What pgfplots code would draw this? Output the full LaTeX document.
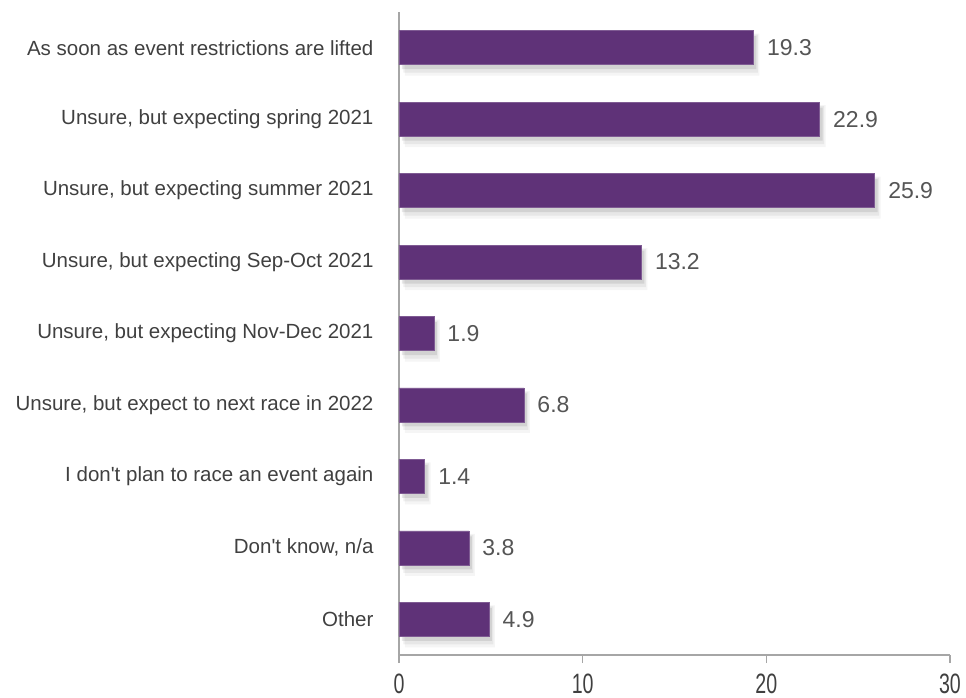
\documentclass[border=0pt]{standalone}
\usepackage{fontspec}
\setmainfont{Liberation Sans}
\usepackage{pgfplots}
\pgfplotsset{compat=1.18}
\definecolor{barc}{HTML}{5F3278}
\definecolor{axc}{HTML}{A6A6A6}
\definecolor{txt}{HTML}{404040}
\definecolor{valc}{HTML}{555555}
\pgfplotstableread{
y  v
0  19.3
1  22.9
2  25.9
3  13.2
4  1.9
5  6.8
6  1.4
7  3.8
8  4.9
}\data
\begin{document}
\begin{tikzpicture}
\begin{axis}[
  at={(0,0)}, anchor=south west,
  scale only axis,
  width=551pt, height=643pt,
  xmin=0, xmax=30,
  ymin=-0.5, ymax=8.5,
  y dir=reverse,
  axis x line*=bottom,
  axis y line*=left,
  axis line style={axc, line width=1.2pt},
  every tick/.style={axc, line width=1.2pt},
  tick align=outside,
  xtick={0,10,20,30},
  major tick length=8pt,
  ytick={0,...,8},
  y tick style={draw=none},
  minor ytick={-0.5,0.5,1.5,2.5,3.5,4.5,5.5,6.5,7.5,8.5},
  minor tick length=8pt,
  minor y tick style={axc, line width=1.2pt},
  yticklabels={As soon as event restrictions are lifted,
    {Unsure, but expecting spring 2021},
    {Unsure, but expecting summer 2021},
    {Unsure, but expecting Sep-Oct 2021},
    {Unsure, but expecting Nov-Dec 2021},
    {Unsure, but expect to next race in 2022},
    I don\textquotesingle t plan to race an event again,
    {Don\textquotesingle t know, n/a},
    Other},
  yticklabel style={font=\fontsize{20.5}{22}\selectfont, text=txt, anchor=east, xshift=-14pt},
  xticklabel style={font=\fontsize{28}{30}\selectfont, text=txt, anchor=north, yshift=-7pt},
  xticklabel={\scalebox{0.7}[1]{\pgfmathprintnumber{\tick}}},
  /pgf/number format/assume math mode=true,
  clip=false,
]
\addplot[xbar, bar width=42pt, bar shift=-7pt, fill=black, fill opacity=0.04, draw=none, xshift=6pt, forget plot] table[x=v,y=y]{\data};
\addplot[xbar, bar width=38pt, bar shift=-6pt, fill=black, fill opacity=0.06, draw=none, xshift=4.5pt, forget plot] table[x=v,y=y]{\data};
\addplot[xbar, bar width=33pt, bar shift=-5pt, fill=black, fill opacity=0.09, draw=none, xshift=3pt, forget plot] table[x=v,y=y]{\data};
\addplot[xbar, bar width=34pt, fill=barc, draw=barc!80!white, line width=0.5pt,
  nodes near coords,
  nodes near coords style={font=\fontsize{23}{24}\selectfont, text=valc, anchor=west, xshift=10pt,
    /pgf/number format/.cd, fixed, precision=1, fixed zerofill, assume math mode=true},
] table[x=v,y=y]{\data};
\end{axis}
\path (-399pt,-43pt) rectangle (567pt,655pt);
\end{tikzpicture}
\end{document}
